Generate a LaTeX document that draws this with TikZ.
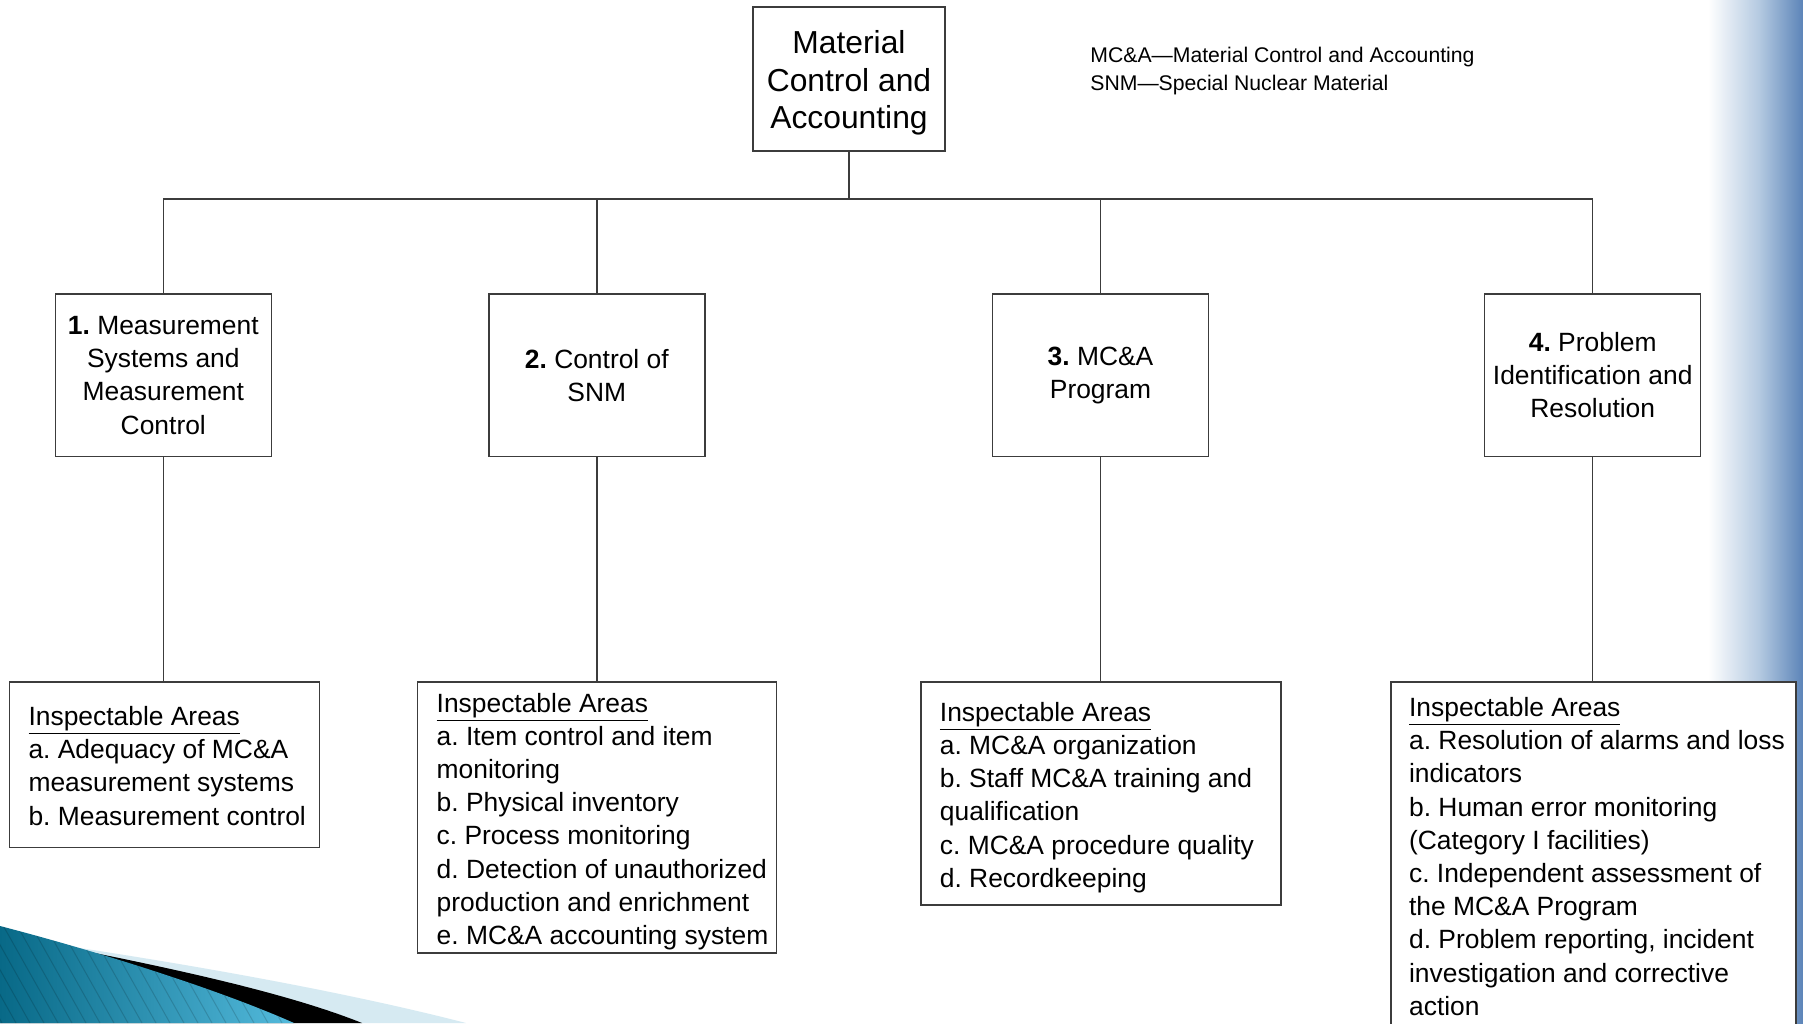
\documentclass[tikz,border=0pt]{standalone}
\usepackage{fontspec}
\setmainfont{Liberation Sans}
\frenchspacing
\definecolor{gradmid}{RGB}{178,200,224}
\definecolor{gradend}{RGB}{92,132,184}
\definecolor{bandlight}{RGB}{214,234,242}
\definecolor{tealdark}{RGB}{8,105,135}
\definecolor{teallight}{RGB}{85,188,222}
\definecolor{boxline}{RGB}{60,60,60}
\begin{document}
\begin{tikzpicture}[x=0.5pt, y=-0.5pt,
  conn/.style={draw=boxline, line width=0.7pt},
  topbox/.style={draw=boxline, line width=0.7pt, fill=white, minimum width=96pt, minimum height=72pt, inner sep=0pt},
  toptext/.style={inner sep=0pt, align=center, font=\fontsize{15.9}{18.7}\selectfont},
  catbox/.style={draw=boxline, line width=0.7pt, fill=white, minimum width=108pt, minimum height=81.25pt, inner sep=0pt, align=center, font=\fontsize{13.2}{16.6}\selectfont},
  areabox/.style={draw=boxline, line width=0.7pt, fill=white, inner sep=0pt},
  areatext/.style={anchor=west, inner sep=0pt, align=left, font=\fontsize{13.2}{16.6}\selectfont},
  legendtext/.style={inner sep=0pt, align=left, font=\fontsize{10.6}{14.4}\selectfont}]
\clip (0,0) rectangle (1803,1023);
\fill[white] (0,0) rectangle (1803,1023);
% right gradient
\shade[left color=white, right color=gradmid] (1708,0) rectangle (1761,1023);
\shade[left color=gradmid, right color=gradend] (1760,0) rectangle (1803,1023);
% bottom-left swoosh
\fill[bandlight] (0,938) -- (60,945) .. controls (200,966) and (350,993) .. (466,1023) -- (0,1023) -- cycle;
\fill[black] (0,932) -- (50,944) .. controls (150,964) and (280,990) .. (362,1023) -- (0,1023) -- cycle;
\begin{scope}
  \path[clip] (0,926) .. controls (100,952) and (220,990) .. (294,1023) -- (0,1023) -- cycle;
  \shade[left color=tealdark, right color=teallight] (0,920) rectangle (300,1023);
  \foreach \i in {-70,-56,...,300} \draw[black, opacity=0.15, line width=0.5pt] (\i,920) -- ++(58,103);
\end{scope}
% nodes
\node[topbox] (top) at (849,79) {};
\node[toptext] (toptitle) at ([yshift=-2pt]top.center) {Material\\Control and\\Accounting};
\node[legendtext, anchor=west] (legend) at (1090,71) {MC\&A—Material Control and Accounting\\SNM—Special Nuclear Material};
\node[catbox] (c1) at (163.3,375.3) {\textbf{1.} Measurement\\Systems and\\Measurement\\Control};
\node[catbox] (c2) at (596.8,375.3) {\textbf{2.} Control of\\SNM};
\node[catbox] (c3) at (1100.5,375.3) {\textbf{3.} MC\&A\\Program};
\node[catbox] (c4) at (1592.7,375.3) {\textbf{4.} Problem\\Identification and\\Resolution};
\node[areabox, minimum width=155.25pt, minimum height=82.75pt] (a1) at (164.5,764.75) {};
\node[areabox, minimum width=179.4pt, minimum height=135.5pt] (a2) at (596.8,817.5) {};
\node[areabox, minimum width=180pt, minimum height=111.5pt] (a3) at (1101,793.5) {};
\node[areabox, minimum width=202.5pt, minimum height=176.5pt] (a4) at (1593.5,858.5) {};
\node[areatext] (a1t) at ([xshift=9.8pt,yshift=-0.5pt]a1.west) {\underline{Inspectable Areas}\\a. Adequacy of MC\&A\\measurement systems\\b. Measurement control};
\node[areatext] (a2t) at ([xshift=9.8pt,yshift=-2pt]a2.west) {\underline{Inspectable Areas}\\a. Item control and item\\monitoring\\b. Physical inventory\\c. Process monitoring\\d. Detection of unauthorized\\production and enrichment\\e. MC\&A accounting system};
\node[areatext] (a3t) at ([xshift=9.6pt,yshift=-2pt]a3.west) {\underline{Inspectable Areas}\\a. MC\&A organization\\b. Staff MC\&A training and\\qualification\\c. MC\&A procedure quality\\d. Recordkeeping};
\node[areatext] (a4t) at ([xshift=9.2pt,yshift=1pt]a4.west) {\underline{Inspectable Areas}\\a. Resolution of alarms and loss\\indicators\\b. Human error monitoring\\(Category I facilities)\\c. Independent assessment of\\the MC\&A Program\\d. Problem reporting, incident\\investigation and corrective\\action};
% connectors
\coordinate (bus) at (849,199);
\draw[conn] (top.south) -- (top.south |- bus);
\draw[conn] (c1.north) -- (c1.north |- bus) -- (c4.north |- bus) -- (c4.north);
\draw[conn] (c2.north) -- (c2.north |- bus);
\draw[conn] (c3.north) -- (c3.north |- bus);
\foreach \c/\a in {c1/a1, c2/a2, c3/a3, c4/a4} \draw[conn] (\c.south) -- (\c.south |- \a.north);
\end{tikzpicture}
\end{document}
